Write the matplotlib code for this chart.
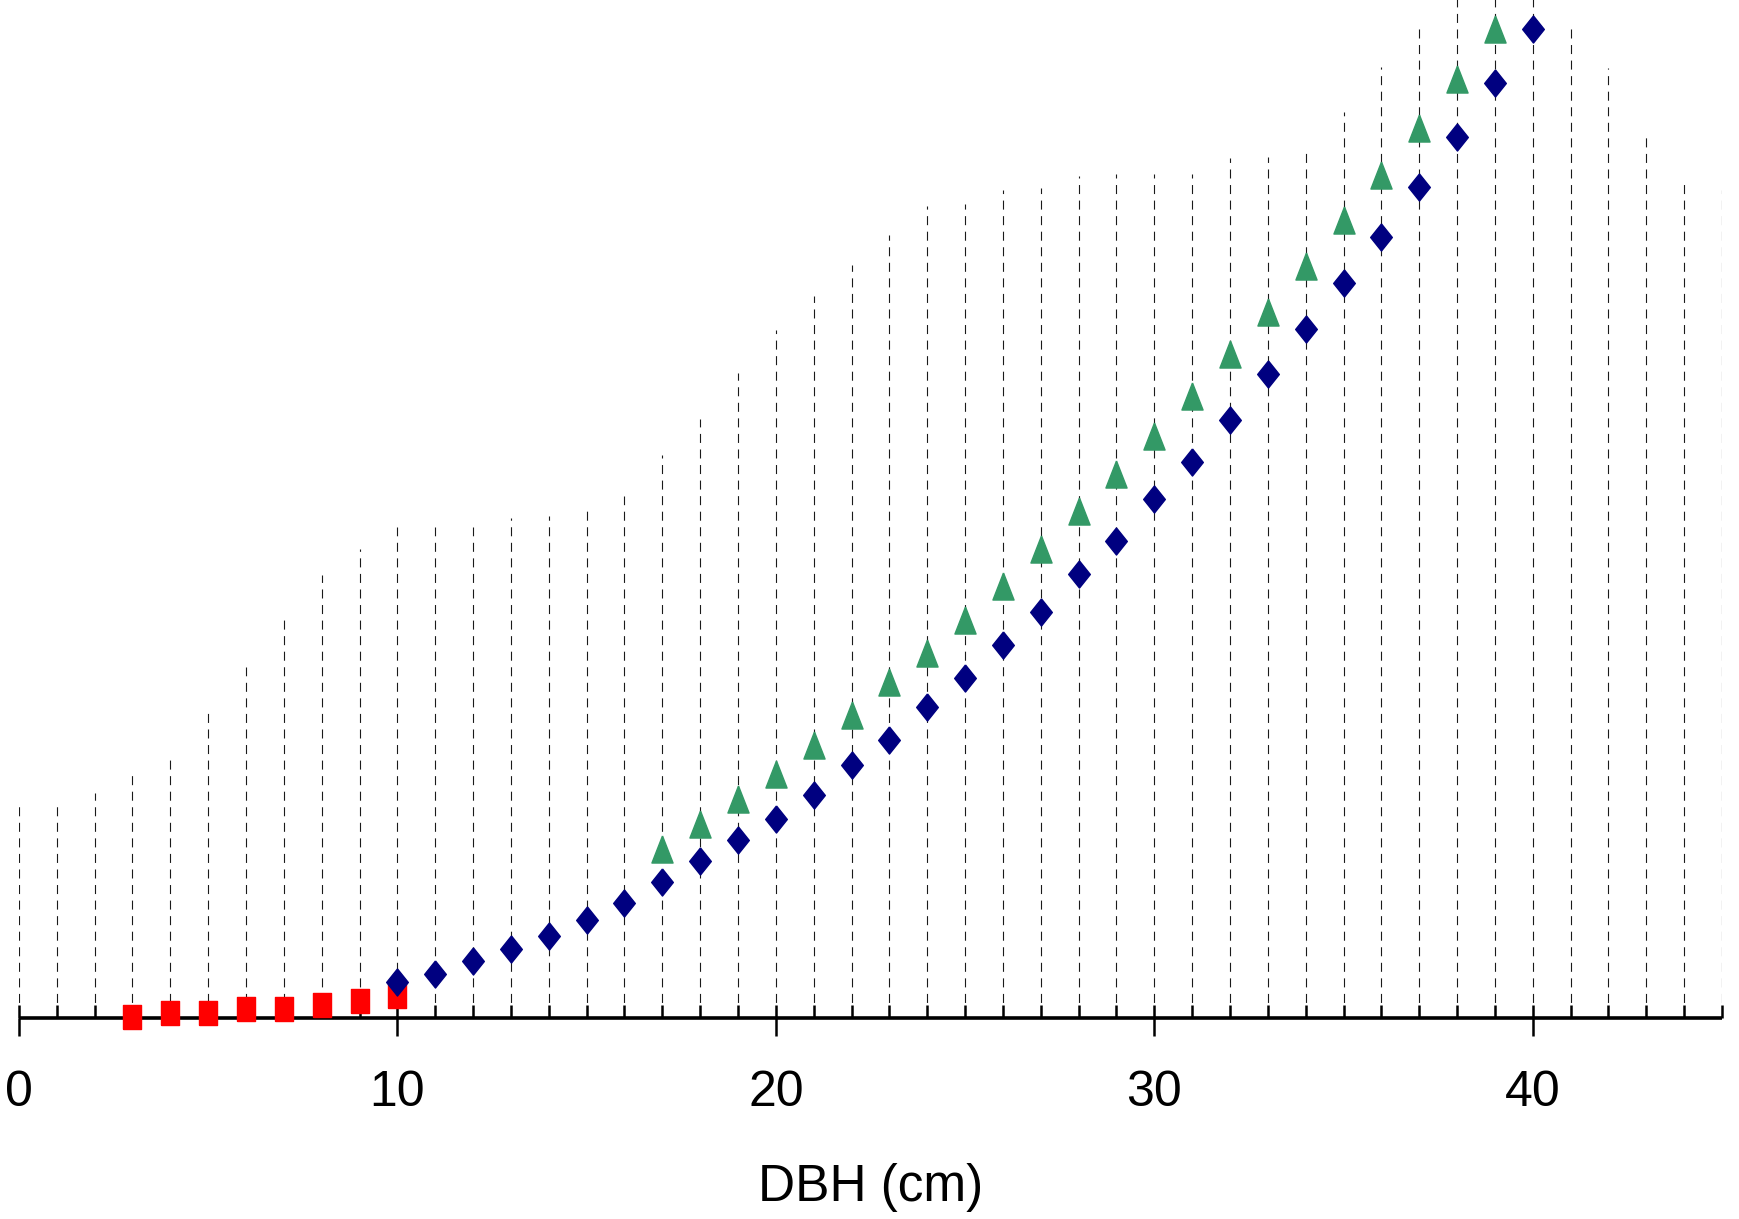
import numpy as np
import matplotlib
matplotlib.use("Agg")
import matplotlib.pyplot as plt

plt.rcParams['font.family'] = ['DejaVu Sans Condensed', 'Liberation Sans Narrow', 'Liberation Sans']
plt.rcParams['font.stretch'] = 'condensed'
plt.rcParams['lines.scale_dashes'] = False

# heights above the axis (arbitrary units, no y axis shown)
grid_dbh = list(range(0, 46))
grid_top = [194, 194, 203, 219, 235, 277, 317, 360, 399, 423,
            443, 443, 443, 451, 453, 457, 471, 508, 540, 581,
            620, 651, 679, 706, 732, 734, 746, 748, 759, 761,
            761, 761, 775, 776, 785, 817, 857, 897, 940, 940,
            940, 896, 856, 797, 756, 746]

red_dbh = [3, 4, 5, 6, 7, 8, 9, 10]
red_val = [0.9, 4.8, 4.8, 8.5, 8.5, 12.3, 16.0, 19.7]

blue_dbh = list(range(10, 41))
blue_val = [32.9, 40.4, 51.8, 62.9, 74.0, 89.0, 104.1, 123.0, 141.5, 160.5,
            179.5, 201.5, 228.5, 250.5, 280.5, 306.5, 336.5, 366.5, 400.5, 430.5,
            468.0, 501.5, 539.0, 580.5, 621.5, 662.8, 704.0, 749.0, 793.8, 843.0,
            891.6]

green_dbh = list(range(17, 40))
green_val = [152.5, 175.0, 197.5, 220.5, 246.5, 273.0, 303.0, 329.0, 359.0, 389.5,
             422.7, 457.0, 490.5, 524.5, 561.0, 599.0, 636.7, 678.0, 719.0, 760.0,
             802.0, 846.0, 891.0]

# marker shapes (taller than wide)
diamond = [(0, 1), (0.8, 0), (0, -1), (-0.8, 0), (0, 1)]
triangle = [(0, 1), (-0.78, -1), (0.78, -1), (0, 1)]
rect = [(-0.75, -1), (0.75, -1), (0.75, 1), (-0.75, 1), (-0.75, -1)]

fig = plt.figure(figsize=(17.4, 12.19), dpi=100)
ax = fig.add_axes([0.01086, 0.1646, 0.9788, 0.8354])

ax.vlines(grid_dbh, 0, grid_top, colors='#1a1a1a', linewidth=0.8,
          linestyles=(0, (6.5, 4.7)), zorder=1)

ax.plot(red_dbh, red_val, linestyle='none', marker=rect, markersize=17,
        color='#ff0000', mec='#ff0000', mew=1, clip_on=False, zorder=4)
ax.plot(green_dbh, green_val, linestyle='none', marker=triangle, markersize=19.5,
        color='#339966', mec='#339966', mew=1, clip_on=False, zorder=4)
ax.plot(blue_dbh, blue_val, linestyle='none', marker=diamond, markersize=19.5,
        color='#000080', mec='#000080', mew=1, clip_on=False, zorder=5)

ax.set_xlim(0, 45)
ax.set_ylim(0, 917.5)

for s in ['top', 'right', 'left']:
    ax.spines[s].set_visible(False)
ax.spines['bottom'].set_linewidth(2.6)
ax.spines['bottom'].set_capstyle('butt')

ax.set_yticks([])
ax.set_xticks([0, 10, 20, 30, 40])
ax.set_xticks(grid_dbh, minor=True)
ax.xaxis.remove_overlapping_locs = False
ax.tick_params(axis='x', which='major', direction='out', length=13.2, width=1.8,
               pad=24, labelsize=36)
ax.tick_params(axis='x', which='minor', direction='in', length=9.6, width=1.8)
ax.set_xlabel('DBH (cm)', fontsize=37, labelpad=34)

fig.savefig('out.png', dpi=100)
